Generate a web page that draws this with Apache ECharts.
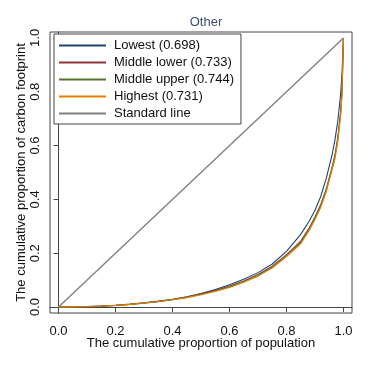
<!DOCTYPE html>
<html>
<head>
<meta charset="utf-8">
<script src="https://cdn.jsdelivr.net/npm/echarts@6/dist/echarts.min.js"></script>
<style>html,body{margin:0;padding:0;background:#fff;}#c{width:365px;height:365px;}</style>
</head>
<body>
<div id="c"></div>
<script>
const popShare    = [0,0.05,0.1,0.15,0.2,0.25,0.3,0.35,0.4,0.45,0.5,0.55,0.6,0.65,0.7,0.75,0.8,0.85,0.88,0.9,0.92,0.94,0.96,0.97,0.98,0.99,0.995,1];
const lowest      = [0,0.0005,0.002,0.004,0.007,0.011,0.016,0.022,0.029,0.038,0.05,0.065,0.083,0.103,0.128,0.16,0.207,0.27,0.32,0.36,0.41,0.48,0.565,0.62,0.69,0.79,0.87,1];
const middleLower = [0,0.0005,0.0015,0.0035,0.0065,0.01,0.015,0.021,0.028,0.037,0.049,0.062,0.078,0.097,0.121,0.152,0.195,0.245,0.295,0.335,0.38,0.44,0.52,0.565,0.63,0.725,0.805,1];
const middleUpper = [0,0.0005,0.0015,0.003,0.006,0.0095,0.0145,0.02,0.027,0.036,0.047,0.06,0.075,0.094,0.118,0.148,0.19,0.24,0.29,0.33,0.375,0.435,0.515,0.558,0.622,0.717,0.797,1];
const highest     = [0,0.0008,0.002,0.004,0.0065,0.01,0.015,0.021,0.027,0.035,0.046,0.058,0.073,0.092,0.115,0.145,0.188,0.235,0.285,0.325,0.37,0.43,0.51,0.55,0.615,0.71,0.79,1];
const standardX = [0,1];
const standardY = [0,1];
const seriesNames = ['Lowest (0.698)','Middle lower (0.733)','Middle upper (0.744)','Highest (0.731)','Standard line'];
const tickValues = [0,0.2,0.4,0.6,0.8,1.0];
const colors = ['#1a476f','#90353b','#55752f','#e37e00','#808080'];

const pairs = (xs, ys) => xs.map((x,i)=>[x, ys[i]]);
const curves = [lowest, middleLower, middleUpper, highest];
const series = curves.map((ys,i)=>({
  name: seriesNames[i], type:'line', data: pairs(popShare, ys), showSymbol:false, smooth:false,
  lineStyle:{width:1.1,color:colors[i]}, itemStyle:{color:colors[i]}, z: 2+i
}));
series.push({name: seriesNames[4], type:'line', data: pairs(standardX, standardY), showSymbol:false,
  lineStyle:{width:1.4,color:colors[4]}, itemStyle:{color:colors[4]}, z:10});

const font = 'Liberation Sans, Arial, sans-serif';
const chart = echarts.init(document.getElementById('c'));
chart.setOption({
  animation:false,
  backgroundColor:'#fff',
  title:{text:'Other', left:201, top:11, textAlign:'center',
    textStyle:{fontFamily:font, fontSize:13, fontWeight:'normal', color:'#3d4f6f'}},
  grid:{left:50, right:13, top:32, bottom:52, show:true, borderColor:'#444', borderWidth:1, backgroundColor:'#fff'},
  legend:{orient:'vertical', left:54, top:34, padding:[5,7,4,5], itemGap:4, itemWidth:47, itemHeight:2,
    icon:'rect', borderColor:'#444', borderWidth:1, backgroundColor:'#fff',
    textStyle:{fontFamily:font, fontSize:13, color:'#111', padding:[0,0,0,3]},
    data: seriesNames},
  xAxis:{type:'value', min:-0.03, max:1.03,
    name:'The cumulative proportion of population', nameLocation:'middle', nameGap:24, nameMoveOverlap:false,
    nameTextStyle:{fontFamily:font, fontSize:13, color:'#111'},
    axisLine:{show:true, lineStyle:{color:'#444'}},
    axisTick:{show:true, length:5, customValues:tickValues, lineStyle:{color:'#444'}},
    axisLabel:{customValues:tickValues, margin:12, fontFamily:font, fontSize:13, color:'#111',
      formatter:v=>v.toFixed(1)},
    splitLine:{show:false}},
  yAxis:{type:'value', min:-0.022, max:1.022,
    name:'The cumulative proportion of carbon footprint', nameLocation:'middle', nameGap:22, nameMoveOverlap:false,
    nameTextStyle:{fontFamily:font, fontSize:13, color:'#111'},
    axisLine:{show:true, lineStyle:{color:'#444'}},
    axisTick:{show:true, length:5, customValues:tickValues, lineStyle:{color:'#444'}},
    axisLabel:{customValues:tickValues, margin:8, rotate:90, fontFamily:font, fontSize:13, color:'#111',
      formatter:v=>v.toFixed(1)},
    splitLine:{show:false}},
  series: series
});
</script>
</body>
</html>
